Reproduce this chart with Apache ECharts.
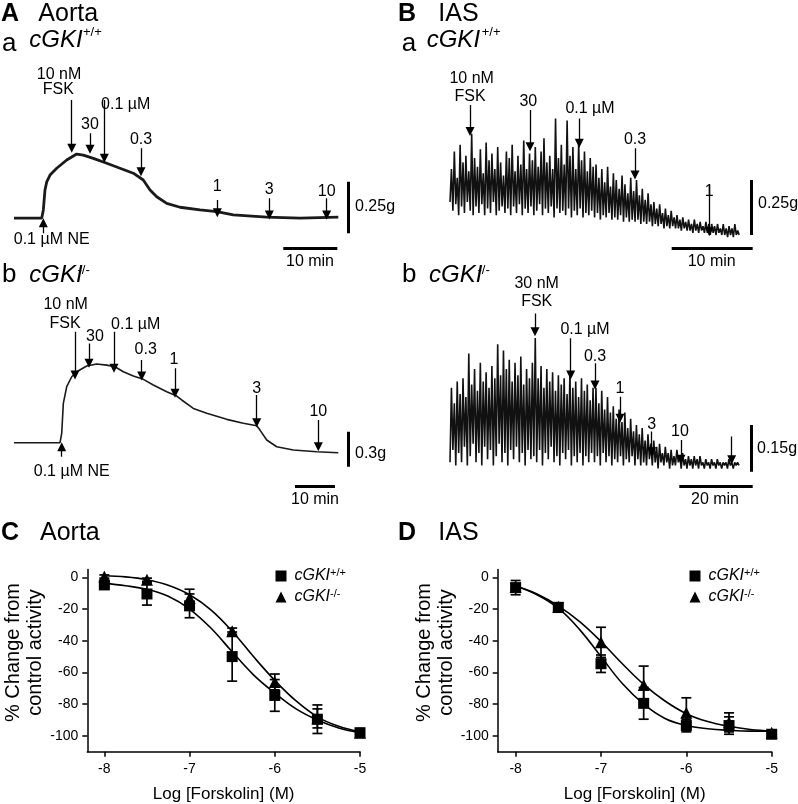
<!DOCTYPE html>
<html><head><meta charset="utf-8">
<script src="https://cdn.jsdelivr.net/npm/echarts@6/dist/echarts.min.js"></script>
<style>html,body{margin:0;padding:0;background:#fff}#c{width:798px;height:804px}</style>
</head><body><div id="c"></div>
<script>
// ---------------- DATA ----------------
// Panel A a: aorta cGKI+/+ trace (time min, tension g)
const aortaWT_t = [0,5.13,5.43,5.74,6.06,6.67,7.91,9.76,11.61,12.83,14.69,17.17,19.63,22.09,23.94,25.19,26.43,28.28,30.74,34.44,37.54,40.61,46.8,52.96,60.06];
const aortaWT_g = [0.073,0.073,0.113,0.21,0.249,0.282,0.315,0.355,0.384,0.379,0.363,0.339,0.315,0.291,0.258,0.21,0.177,0.145,0.126,0.113,0.105,0.089,0.078,0.073,0.078];
// Panel A b: aorta cGKI-/- trace
const aortaKO_t = [0,11.5,11.93,12.33,13.18,14.43,15.68,18.18,20.68,23.18,25.25,27.33,29.83,32.33,34.83,38.18,40.68,41.93,44.83,48.18,53.18,57.33,60.68,61.5,63.18,65.68,69.83,75.68,81.08];
const aortaKO_g = [0.206,0.206,0.286,0.543,0.686,0.771,0.814,0.863,0.88,0.871,0.857,0.814,0.777,0.749,0.7,0.643,0.606,0.572,0.5,0.458,0.406,0.372,0.351,0.314,0.229,0.171,0.143,0.129,0.12];
// Panel B a: IAS cGKI+/+ spikes (g)
const iasWT_duration = 35.7;
const iasWT_peaks = [
0.30,0.38,0.26,0.41,0.33,0.36,0.29,0.46,0.35,0.31,
0.39,0.28,0.42,0.34,0.37,0.30,0.40,0.33,0.27,0.38,
0.35,0.41,0.29,0.36,0.32,0.43,0.30,0.37,0.34,0.40,
0.31,0.38,0.44,0.33,0.36,0.30,0.53,0.35,0.41,0.32,
0.52,0.36,0.40,0.30,0.42,0.34,0.38,0.29,0.35,0.31,
0.32,0.26,0.30,0.24,0.31,0.22,0.28,0.25,0.21,0.27,
0.23,0.19,0.26,0.20,0.25,0.18,0.21,0.16,0.19,0.14,
0.15,0.12,0.14,0.10,0.12,0.09,0.11,0.08,0.09,0.07,
0.08,0.06,0.07,0.05,0.07,0.05,0.06,0.04,0.06,0.05,
0.05,0.04,0.05,0.03,0.05,0.03,0.04,0.03,0.05,0.02];
const iasWT_troughs = [
0.15,0.11,0.14,0.09,0.13,0.10,0.15,0.11,0.09,0.13,
0.10,0.14,0.09,0.12,0.10,0.15,0.09,0.11,0.13,0.10,
0.12,0.09,0.13,0.10,0.14,0.09,0.12,0.10,0.13,0.09,
0.11,0.14,0.09,0.12,0.10,0.13,0.08,0.12,0.10,0.11,
0.09,0.12,0.08,0.11,0.09,0.12,0.08,0.10,0.09,0.11,
0.08,0.10,0.07,0.09,0.08,0.10,0.07,0.08,0.07,0.09,
0.06,0.08,0.06,0.07,0.06,0.07,0.05,0.06,0.05,0.06,
0.04,0.05,0.04,0.05,0.03,0.04,0.03,0.04,0.03,0.03,
0.02,0.03,0.02,0.02,0.01,0.02,0.01,0.02,0.01,0.01,
0.00,0.01,0.00,0.01,0.00,0.00,-0.01,0.00,-0.01,0.00,0.00];
// Panel B b: IAS cGKI-/- spikes (g)
const iasKO_duration = 78.75;
const iasKO_peaks = [
0.27,0.22,0.29,0.25,0.30,0.24,0.38,0.28,0.33,0.26,
0.35,0.29,0.32,0.27,0.34,0.30,0.41,0.31,0.39,0.33,
0.36,0.29,0.35,0.31,0.37,0.28,0.33,0.30,0.35,0.43,
0.30,0.34,0.27,0.33,0.29,0.32,0.26,0.31,0.28,0.30,
0.25,0.32,0.27,0.29,0.24,0.30,0.26,0.28,0.23,0.27,
0.27,0.22,0.26,0.20,0.24,0.19,0.21,0.17,0.20,0.16,
0.19,0.14,0.17,0.13,0.15,0.12,0.14,0.10,0.12,0.09,
0.10,0.08,0.09,0.06,0.08,0.06,0.07,0.05,0.07,0.05,
0.06,0.04,0.05,0.04,0.05,0.04,0.05,0.03,0.04,0.03,
0.04,0.03,0.04,0.03,0.03,0.03,0.04,0.03,0.03,0.03];
const iasKO_troughs = [
0.03,0.07,0.02,0.06,0.03,0.08,0.02,0.05,0.09,0.03,
0.06,0.02,0.08,0.04,0.07,0.02,0.05,0.09,0.03,0.06,
0.02,0.07,0.04,0.08,0.03,0.06,0.02,0.07,0.04,0.05,
0.03,0.07,0.02,0.06,0.04,0.08,0.03,0.05,0.02,0.06,
0.04,0.07,0.02,0.05,0.03,0.06,0.02,0.05,0.03,0.06,
0.03,0.05,0.02,0.06,0.03,0.05,0.02,0.04,0.03,0.05,
0.02,0.04,0.03,0.05,0.02,0.04,0.02,0.03,0.02,0.04,
0.02,0.03,0.01,0.03,0.02,0.03,0.01,0.02,0.02,0.03,
0.01,0.02,0.01,0.02,0.01,0.02,0.01,0.02,0.01,0.02,
0.01,0.02,0.01,0.02,0.01,0.02,0.01,0.02,0.01,0.02,0.02];
// Drug-addition arrows: [time, start g, end g]
const aortaWT_arrows = [[10.69,0.646,0.412],[14.07,0.485,0.407],[16.72,0.646,0.363],[23.52,0.412,0.298],[37.65,0.161,0.1],[47.28,0.17,0.089],[57.9,0.17,0.089],[5.43,0,0.051]];
const aortaKO_arrows = [[15.25,1.157,0.786],[18.75,1.057,0.886],[25,1.157,0.843],[31.93,0.914,0.777],[40.25,0.843,0.629],[60.68,0.614,0.377],[76.08,0.4,0.171],[11.93,0.086,0.171]];
const iasWT_arrows = [[2.47,0.591,0.47],[9.88,0.568,0.401],[15.96,0.53,0.417],[22.84,0.394,0.273],[32.01,0.227,0.015]];
const iasKO_arrows = [[23.16,0.509,0.45],[32.89,0.429,0.311],[39.51,0.349,0.279],[46.32,0.241,0.172],[54.96,0.129,0.064],[62.94,0.102,0.04],[76.76,0.113,0.038]];
// Scale bars: [[t1,g1],[t2,g2]]
const aortaWT_bars = [[[61.9,0],[61.9,0.25]],[[49.87,-0.0727],[59.87,-0.0727]]];
const aortaKO_bars = [[[83.58,0],[83.58,0.3]],[[70.25,-0.171],[80.25,-0.171]]];
const iasWT_bars = [[[37.25,0],[37.25,0.25]],[[27.37,-0.06],[37.37,-0.06]]];
const iasKO_bars = [[[82.2,0],[82.2,0.15]],[[62.48,-0.048],[82.48,-0.048]]];
// Panels C, D: concentration-response
const doseX = [-8,-7.5,-7,-6.5,-6,-5.5,-5];
const aortaWT_mean = [-4.8,-10.5,-18,-50,-74.5,-89.5,-98];
const aortaWT_sem  = [1.5,7,7.5,15.5,10,9,1];
const aortaKO_mean = [0.5,-1.5,-13,-34,-66,-89,-98];
const aortaKO_sem  = [1,1,5.5,2,5,6,1];
const iasWT_mean = [-6.5,-19,-54.5,-79.5,-93.5,-93.5,-99];
const iasWT_sem  = [4.5,3,5.5,10,4,5.5,1];
const iasKO_mean = [-6,-18.5,-41,-68,-85.5,-91.5,-98];
const iasKO_sem  = [2,2,9.5,12,9.5,6,1];
const fitX = [-8,-7.75,-7.5,-7.25,-7,-6.75,-6.5,-6.25,-6,-5.75,-5.5,-5.25,-5];
const aortaWT_fit = [-3.8,-5.3,-7.6,-12,-20,-32,-47,-61.5,-73,-83,-90,-95,-98];
const aortaKO_fit = [1,0.3,-1.5,-5,-11,-20.5,-34,-50,-65,-78,-88,-94,-97.5];
const iasWT_fit = [-5.5,-11,-19.5,-33,-50,-67,-80,-89,-93.5,-95.5,-96.5,-97,-97];
const iasKO_fit = [-5.5,-10.5,-18,-28,-40.5,-54.5,-67.5,-78,-86,-91,-94,-96,-97];
const xTicks = [-8,-7,-6,-5];
const yTicks = [0,-20,-40,-60,-80,-100];
const legendNames = ['cGKI+/+','cGKI-/-'];

// ---------------- BUILD ----------------
const F = '"Liberation Sans", Arial, Helvetica, sans-serif';
const zip = (a,b) => a.map((v,i)=>[v,b[i]]);
function spikes(troughs, peaks, dur){
  const n = peaks.length, out = [];
  for (let i=0;i<n;i++){ out.push([(2*i)*dur/(2*n), troughs[i]]); out.push([(2*i+1)*dur/(2*n), peaks[i]]); }
  out.push([dur, troughs[n]]);
  return out;
}
function traceSeries(idx, data, width, color){
  return {type:'line', xAxisIndex:idx, yAxisIndex:idx, data, showSymbol:false, symbol:'none',
    lineStyle:{color:color||'#1a1a1a', width}, silent:true, z:2};
}
function arrowSeries(idx, arrows){
  return {type:'lines', coordinateSystem:'cartesian2d', xAxisIndex:idx, yAxisIndex:idx,
    data: arrows.map(a=>({coords:[[a[0],a[1]],[a[0],a[2]]]})),
    symbol:['none','triangle'], symbolSize:9, lineStyle:{color:'#000', width:1.3, opacity:1}, silent:true, z:4};
}
function barSeries(idx, bars){
  return {type:'lines', coordinateSystem:'cartesian2d', xAxisIndex:idx, yAxisIndex:idx,
    data: bars.map(b=>({coords:b})), symbol:['none','none'], lineStyle:{color:'#000', width:3, opacity:1}, silent:true, z:4};
}
function errSeries(idx, mean, sem){
  return {type:'custom', xAxisIndex:idx, yAxisIndex:idx, silent:true, z:2,
    data: doseX.map((x,i)=>[x, mean[i]-sem[i], mean[i]+sem[i]]),
    encode:{x:0, y:[1,2]},
    renderItem:(params, api)=>{
      const x=api.value(0), lo=api.value(1), hi=api.value(2);
      const a=api.coord([x,hi]), b=api.coord([x,lo]); const w=5;
      const st={stroke:'#000', lineWidth:1.7};
      return {type:'group', children:[
        {type:'line', shape:{x1:a[0],y1:a[1],x2:b[0],y2:b[1]}, style:st},
        {type:'line', shape:{x1:a[0]-w,y1:a[1],x2:a[0]+w,y2:a[1]}, style:st},
        {type:'line', shape:{x1:b[0]-w,y1:b[1],x2:b[0]+w,y2:b[1]}, style:st}]};
    }};
}
function fitSeries(idx, fit){
  return {type:'line', xAxisIndex:idx, yAxisIndex:idx, data: zip(fitX, fit), smooth:0.4, showSymbol:false, symbol:'none',
    lineStyle:{color:'#000', width:1.6}, silent:true, z:1};
}
function markerSeries(idx, name, symbol, size, mean){
  return {type:'scatter', name, xAxisIndex:idx, yAxisIndex:idx, data: zip(doseX, mean), symbol, symbolSize:size,
    itemStyle:{color:'#000', opacity:1}, silent:true, z:3};
}
const traceGrids = [
  {left:14, top:88.8, width:378, height:165.1, x:[0,70], y:[-0.1,0.7]},
  {left:14, top:326.7, width:380, height:169.2, x:[0,95], y:[-0.25,1.2]},
  {left:450, top:92, width:324, height:165, x:[0,40], y:[-0.1,0.65]},
  {left:450, top:300.65, width:330.3, height:195.9, x:[0,90], y:[-0.08,0.55]}
];
const grids = traceGrids.map(g=>({left:g.left, top:g.top, width:g.width, height:g.height, containLabel:false, outerBoundsMode:'none'}));
grids.push({left:87.3, top:569.4, width:272.7, height:182.3, containLabel:false, outerBoundsMode:'none'});
grids.push({left:497.7, top:569.4, width:274, height:182.3, containLabel:false, outerBoundsMode:'none'});
const xAxes = traceGrids.map((g,i)=>({gridIndex:i, type:'value', min:g.x[0], max:g.x[1], show:false}));
const yAxes = traceGrids.map((g,i)=>({gridIndex:i, type:'value', min:g.y[0], max:g.y[1], show:false}));
function doseXAxis(idx, min){
  return {gridIndex:idx, type:'value', min, max:-5,
    axisLine:{show:true, onZero:false, lineStyle:{color:'#000', width:1.5}},
    axisTick:{show:true, length:5, customValues:xTicks, lineStyle:{color:'#000', width:1.5}},
    axisLabel:{customValues:xTicks, color:'#000', fontSize:14, fontFamily:F, margin:10},
    splitLine:{show:false},
    name:'Log [Forskolin] (M)', nameLocation:'middle', nameGap:34,
    nameTextStyle:{color:'#000', fontSize:17, fontFamily:F}};
}
function doseYAxis(idx){
  return {gridIndex:idx, type:'value', min:-110, max:5,
    axisLine:{show:true, onZero:false, lineStyle:{color:'#000', width:1.5}},
    axisTick:{show:true, length:5, customValues:yTicks, lineStyle:{color:'#000', width:1.5}},
    axisLabel:{customValues:yTicks, color:'#000', fontSize:14, fontFamily:F, margin:9},
    splitLine:{show:false}};
}
xAxes.push(doseXAxis(4, -8.2)); xAxes.push(doseXAxis(5, -8.21));
yAxes.push(doseYAxis(4)); yAxes.push(doseYAxis(5));

const series = [
  traceSeries(0, zip(aortaWT_t, aortaWT_g), 2.8),
  arrowSeries(0, aortaWT_arrows), barSeries(0, aortaWT_bars),
  traceSeries(1, zip(aortaKO_t, aortaKO_g), 1.6),
  arrowSeries(1, aortaKO_arrows), barSeries(1, aortaKO_bars),
  traceSeries(2, spikes(iasWT_troughs, iasWT_peaks, iasWT_duration), 1.6, '#111'),
  arrowSeries(2, iasWT_arrows), barSeries(2, iasWT_bars),
  traceSeries(3, spikes(iasKO_troughs, iasKO_peaks, iasKO_duration), 1.6, '#111'),
  arrowSeries(3, iasKO_arrows), barSeries(3, iasKO_bars),
  fitSeries(4, aortaWT_fit), fitSeries(4, aortaKO_fit),
  errSeries(4, aortaWT_mean, aortaWT_sem), errSeries(4, aortaKO_mean, aortaKO_sem),
  markerSeries(4, legendNames[0], 'rect', 11, aortaWT_mean), markerSeries(4, legendNames[1], 'triangle', 12, aortaKO_mean),
  fitSeries(5, iasWT_fit), fitSeries(5, iasKO_fit),
  errSeries(5, iasWT_mean, iasWT_sem), errSeries(5, iasKO_mean, iasKO_sem),
  markerSeries(5, legendNames[0], 'rect', 11, iasWT_mean), markerSeries(5, legendNames[1], 'triangle', 12, iasKO_mean)
];

function legendAt(left, top){
  return {orient:'vertical', left, top, padding:0, itemWidth:11, itemHeight:11, itemGap:4, selectedMode:false,
    data:[{name:legendNames[0], icon:'rect', itemStyle:{color:'#000', opacity:1}},{name:legendNames[1], icon:'triangle', itemStyle:{color:'#000', opacity:1}}],
    formatter: n => '{i|cGKI}{s|' + n.slice(4) + '}',
    textStyle:{color:'#000', fontFamily:F, fontSize:16, padding:[0,0,0,3],
      rich:{i:{fontStyle:'italic', fontSize:16, fontFamily:F, color:'#000', lineHeight:18},
            s:{fontSize:11, fontFamily:F, color:'#000', verticalAlign:'top', lineHeight:18}}}};
}

// text helper (layout)
function T(x, y, text, size, o){
  o = o || {};
  const al = o.align || 'center';
  return {type:'text', x, y, rotation:o.rot||0, silent:true, z:10, style:{text, fontSize:size, fontFamily:F, fill:'#000',
    fontWeight:o.bold?'bold':'normal', fontStyle:o.italic?'italic':'normal', lineHeight:o.lh||undefined,
    textAlign:al, align:al, textVerticalAlign:'middle', verticalAlign:'middle'}};
}
const L = {align:'left'};
const IT = {align:'left',italic:true};
const yTitle = '% Change from\ncontrol activity';
const graphic = [
  T(1,14.2,'A',25,{align:'left',bold:true}), T(38.3,14.2,'Aorta',25,L),
  T(2,44,'a',26,L), T(29.3,40,'cGKI',24,IT), T(83,32,'+/+',13,L),
  T(2,275,'b',26,L), T(29.3,275.5,'cGKI',24,IT), T(77.5,270.5,'-/-',13,L),
  T(398,14.2,'B',25,{align:'left',bold:true}), T(438.3,14.2,'IAS',25,L),
  T(401.7,44,'a',26,L), T(426.7,40,'cGKI',24,IT), T(481.7,32,'+/+',13,L),
  T(402,275,'b',26,L), T(429,275.5,'cGKI',24,IT), T(477.5,270.5,'-/-',13,L),
  T(1,533.3,'C',25,{align:'left',bold:true}), T(40,533.3,'Aorta',25,L),
  T(398,533.3,'D',25,{align:'left',bold:true}), T(438.3,533.3,'IAS',25,L),
  T(24,652.5,yTitle,20,{rot:Math.PI/2, lh:22}), T(435,652.5,yTitle,20,{rot:Math.PI/2, lh:22}),
  // Aa annotations
  T(59,75,'10 nM',16), T(58.3,90,'FSK',16), T(90,125,'30',16), T(125.7,104.3,'0.1 µM',16), T(141,140,'0.3',16),
  T(217.3,186.7,'1',16), T(269.3,190,'3',16), T(326.7,191.7,'10',16), T(51.7,240,'0.1 µM NE',16),
  T(310,261.5,'10 min',16), T(355,206.7,'0.25g',16,L),
  // Ab annotations
  T(65.7,305,'10 nM',16), T(65,323.3,'FSK',16), T(95,336.7,'30',16), T(135.7,325,'0.1 µM',16), T(145.7,350,'0.3',16),
  T(174,360,'1',16), T(256.7,388.3,'3',16), T(318.3,411.7,'10',16), T(71.7,471.7,'0.1 µM NE',16),
  T(315,500,'10 min',16), T(355,453.3,'0.3g',16,L),
  // Ba annotations
  T(471.7,78.3,'10 nM',16), T(470,96.7,'FSK',16), T(528.3,101.7,'30',16), T(590,108.3,'0.1 µM',16), T(635,140,'0.3',16),
  T(709.3,192,'1',16), T(711.7,262,'10 min',16), T(758,203.3,'0.25g',16,L),
  // Bb annotations
  T(536.7,283.3,'30 nM',16), T(536.7,301.7,'FSK',16), T(585,330,'0.1 µM',16), T(595,356.7,'0.3',16),
  T(620,388.3,'1',16), T(651.7,425,'3',16), T(680,431.7,'10',16), T(715,500,'20 min',16), T(757,448.3,'0.15g',16,L)
];

const chart = echarts.init(document.getElementById('c'), null, {renderer:'canvas'});
chart.setOption({
  animation:false, backgroundColor:'#fff',
  textStyle:{fontFamily:F},
  grid:grids, xAxis:xAxes, yAxis:yAxes,
  legend:[legendAt(275.5,567), legendAt(689.5,567)],
  series, graphic
});
</script></body></html>
